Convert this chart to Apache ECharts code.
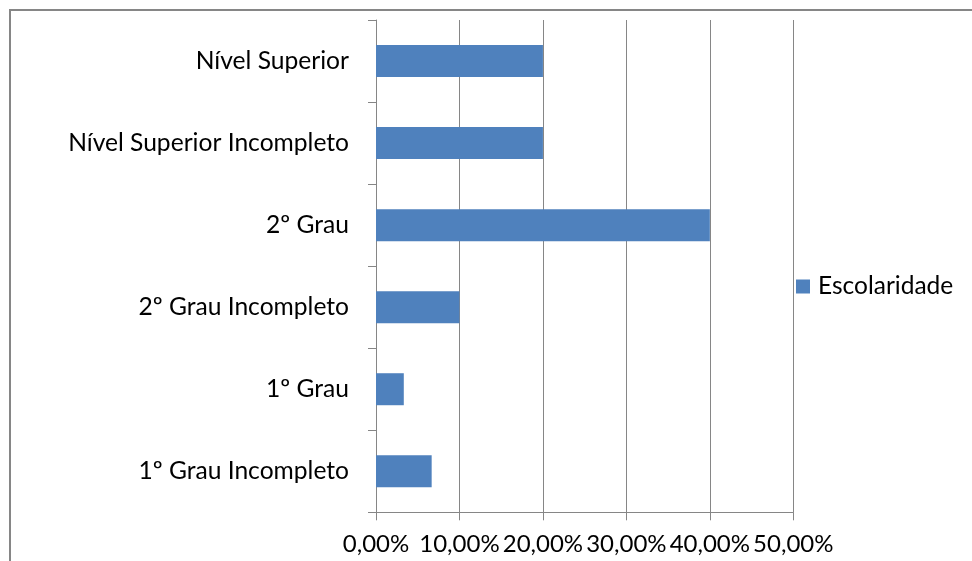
<!DOCTYPE html>
<html>
<head>
<meta charset="utf-8">
<title>Escolaridade</title>
<script src="https://cdn.jsdelivr.net/npm/echarts@6/dist/echarts.min.js"></script>
<style>
  html, body { margin: 0; padding: 0; background: #ffffff; }
  #chart { width: 972px; height: 561px; }
</style>
</head>
<body>
<div id="chart"></div>
<script>
// Education levels, listed bottom to top as the category axis draws them
const categories = [
  '1º Grau Incompleto',
  '1º Grau',
  '2º Grau Incompleto',
  '2º Grau',
  'Nível Superior Incompleto',
  'Nível Superior'
];
// Share of respondents per level (percent)
const escolaridade = [6.67, 3.33, 10, 40, 20, 20];
const seriesName = 'Escolaridade';
const xTicks = { min: 0, max: 50, interval: 10 };

const FONT = 'Lato';
const GRAY = '#868686';

const chart = echarts.init(document.getElementById('chart'), null, { renderer: 'canvas' });

chart.setOption({
  backgroundColor: '#ffffff',
  animation: false,
  textStyle: { fontFamily: FONT },
  graphic: [{
    type: 'rect',
    shape: { x: 10, y: 10, width: 1000, height: 600 },
    style: { fill: 'none', stroke: GRAY, lineWidth: 2 },
    silent: true,
    z: -1
  }],
  grid: { left: 376, top: 20, right: 178.7, bottom: 48.7, containLabel: false },
  legend: {
    data: [seriesName],
    left: 791,
    top: 269,
    padding: 5,
    orient: 'vertical',
    icon: 'rect',
    itemWidth: 14,
    itemHeight: 14,
    textStyle: { fontFamily: FONT, fontSize: 24.5, color: '#000000', lineHeight: 24, padding: [0, 0, 0, 3] }
  },
  xAxis: {
    type: 'value',
    min: xTicks.min,
    max: xTicks.max,
    interval: xTicks.interval,
    axisLine: { show: true, lineStyle: { color: GRAY, width: 1 } },
    axisTick: { show: true, length: 8, lineStyle: { color: GRAY, width: 1 } },
    splitLine: { show: true, lineStyle: { color: GRAY, width: 1 } },
    axisLabel: {
      fontFamily: FONT,
      fontSize: 24,
      color: '#000000',
      margin: 20,
      formatter: v => v.toFixed(2).replace('.', ',') + '%'
    }
  },
  yAxis: {
    type: 'category',
    data: categories,
    axisLine: { show: true, lineStyle: { color: GRAY, width: 1 } },
    axisTick: { show: true, length: 8, alignWithLabel: false, lineStyle: { color: GRAY, width: 1 } },
    splitLine: { show: false },
    axisLabel: {
      fontFamily: FONT,
      fontSize: 24.6,
      color: '#000000',
      margin: 27,
      interval: 0
    }
  },
  series: [{
    name: seriesName,
    type: 'bar',
    data: escolaridade,
    barWidth: 32,
    itemStyle: { color: '#4F81BD' }
  }]
});
</script>
</body>
</html>
